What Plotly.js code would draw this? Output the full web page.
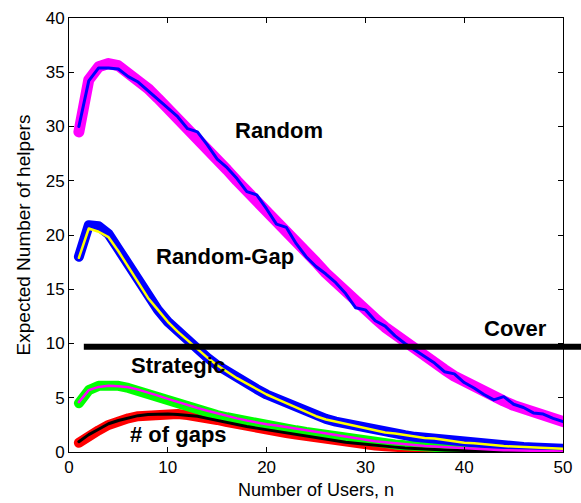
<!DOCTYPE html>
<html>
<head>
<meta charset="utf-8">
<script src="https://cdn.plot.ly/plotly-3.0.1.min.js"></script>
<style>
html,body{margin:0;padding:0;background:#fff;}
#chart{width:581px;height:503px;}
.scatterlayer path.js-line{stroke-linecap:round !important;stroke-linejoin:round !important;}
</style>
</head>
<body>
<div id="chart"></div>
<script>
// Number of users n
const users = [1,2,3,4,5,6,7,8,9,10,11,12,13,14,15,16,17,18,19,20,21,22,23,24,25,26,27,28,29,30,31,32,33,34,35,36,37,38,39,40,41,42,43,44,45,46,47,48,49,50];

// Random: analysis (thick magenta) and simulation (thin blue)
const randomAnalysis = [29.5,34.3,35.5,35.8,35.6,35.0,34.3,33.5,32.6,31.7,30.8,29.8,28.8,27.9,26.9,26.0,25.0,24.1,23.1,22.2,21.2,20.3,19.3,18.4,17.5,16.5,15.6,14.8,13.9,13.1,12.3,11.5,10.8,10.1,9.4,8.8,8.2,7.6,7.0,6.5,6.0,5.5,5.1,4.7,4.3,4.0,3.7,3.4,3.1,2.8];
const randomSim = [30.0,34.2,35.4,35.4,35.3,34.6,34.1,33.3,32.5,31.7,30.9,29.8,29.5,28.3,27.0,26.2,25.2,24.0,23.7,22.4,21.0,20.7,19.2,18.0,17.1,16.4,15.6,14.6,13.3,13.1,12.1,11.6,10.7,10.0,9.4,8.8,8.2,7.4,7.2,6.4,5.9,5.3,4.8,5.1,4.4,4.1,3.6,3.5,3.1,2.8];

// Random-Gap: analysis (thick blue) and simulation (thin yellow)
const randomGapAnalysis = [18.0,20.9,20.8,20.1,18.7,17.2,15.7,14.3,13.1,12.0,11.1,10.3,9.5,8.7,8.0,7.4,6.8,6.3,5.8,5.3,4.9,4.5,4.1,3.75,3.35,3.05,2.8,2.6,2.35,2.15,1.95,1.8,1.65,1.55,1.4,1.3,1.2,1.1,0.98,0.88,0.8,0.72,0.64,0.58,0.52,0.47,0.42,0.38,0.34,0.3];
const randomGapSim = [17.9,20.6,20.3,19.8,18.5,17.1,15.6,14.2,13.1,12.0,11.1,10.3,9.5,8.7,8.0,7.4,6.8,6.3,5.8,5.3,4.9,4.5,4.1,3.75,3.3,3.0,2.8,2.6,2.35,2.15,1.95,1.8,1.7,1.55,1.4,1.3,1.25,1.1,0.95,0.85,0.8,0.7,0.62,0.55,0.5,0.45,0.4,0.35,0.3,0.3];

// Strategic: analysis (thick green) and simulation (thin magenta)
const strategicAnalysis = [4.5,5.7,6.1,6.2,6.1,5.9,5.6,5.3,5.0,4.7,4.4,4.15,3.9,3.65,3.4,3.2,3.0,2.8,2.6,2.45,2.3,2.15,2.0,1.85,1.7,1.55,1.4,1.25,1.1,1.0,0.9,0.8,0.7,0.62,0.55,0.48,0.42,0.36,0.3,0.25,0.2,0.17,0.14,0.12,0.1,0.08,0.06,0.05,0.04,0.03];
const strategicSim = [4.6,5.7,6.0,6.1,6.05,5.97,5.75,5.5,5.2,4.9,4.6,4.3,4.05,3.8,3.55,3.3,3.1,2.9,2.7,2.55,2.45,2.3,2.15,2.0,1.85,1.7,1.55,1.4,1.25,1.12,1.0,0.9,0.8,0.72,0.64,0.56,0.5,0.44,0.38,0.33,0.28,0.24,0.2,0.17,0.14,0.12,0.1,0.08,0.06,0.05];

// # of gaps: analysis (thick red) and simulation (thin black)
const gapsAnalysis = [0.85,1.5,2.0,2.5,2.85,3.1,3.3,3.4,3.5,3.5,3.5,3.4,3.3,3.15,2.95,2.75,2.55,2.35,2.2,2.05,1.9,1.75,1.6,1.45,1.3,1.15,1.0,0.9,0.8,0.7,0.6,0.52,0.45,0.38,0.32,0.27,0.23,0.19,0.16,0.13,0.11,0.09,0.07,0.06,0.05,0.04,0.03,0.02,0.02,0.01];
const gapsSim = [0.95,1.6,2.1,2.6,2.9,3.15,3.35,3.45,3.5,3.5,3.45,3.4,3.3,3.1,2.9,2.75,2.55,2.35,2.2,2.05,1.9,1.75,1.6,1.45,1.3,1.15,1.0,0.9,0.8,0.7,0.6,0.52,0.45,0.38,0.32,0.27,0.23,0.19,0.16,0.13,0.11,0.09,0.07,0.06,0.05,0.04,0.03,0.02,0.02,0.01];

// Cover level
const coverLevel = 9.7;
const coverStartX = 1.5;

// Labels
const labelText = ["Random","Random-Gap","Cover","Strategic","# of gaps"];
const labelX = [21.25, 15.74, 45.2, 11.0, 11.1];
const labelY = [29.6, 18.0, 11.4, 8.0, 1.6];

const xTicks = [0,10,20,30,40,50];
const yTicks = [0,5,10,15,20,25,30,35,40];

function line(y, color, width) {
  return {x: users, y: y, type: 'scatter', mode: 'lines', line: {color: color, width: width, shape: 'linear'}, hoverinfo: 'skip', showlegend: false};
}

const traces = [
  line(gapsAnalysis, '#ff0000', 10),
  line(strategicAnalysis, '#00ff00', 10),
  line(randomGapAnalysis, '#0000ff', 10),
  line(randomAnalysis, '#ff00ff', 11),
  line(gapsSim, '#000000', 3),
  line(strategicSim, '#ff00ff', 2.5),
  line(randomGapSim, '#ffff00', 2.5),
  line(randomSim, '#0000ff', 3)
];

const layout = {
  width: 581, height: 503,
  margin: {l: 69, r: 18, t: 18, b: 51},
  paper_bgcolor: '#ffffff', plot_bgcolor: '#ffffff',
  font: {family: 'Liberation Sans, Arial, sans-serif', color: '#000000', size: 17},
  showlegend: false,
  xaxis: {
    range: [0, 50], tickvals: xTicks, ticktext: xTicks.map(String),
    ticks: 'inside', ticklen: 5, tickcolor: '#000', mirror: 'ticks',
    showline: true, linecolor: '#000', linewidth: 1, showgrid: false, zeroline: false,
    tickfont: {size: 17},
    title: {text: 'Number of Users, n', font: {size: 18}, standoff: 6}
  },
  yaxis: {
    range: [0, 40], tickvals: yTicks, ticktext: yTicks.map(String),
    ticks: 'inside', ticklen: 5, tickcolor: '#000', mirror: 'ticks',
    showline: true, linecolor: '#000', linewidth: 1, showgrid: false, zeroline: false,
    tickfont: {size: 17},
    title: {text: 'Expected Number of helpers', font: {size: 19}, standoff: 10}
  },
  shapes: [{
    type: 'line', xref: 'paper', yref: 'paper',
    x0: coverStartX / 50, x1: 1.04,
    y0: coverLevel / 40, y1: coverLevel / 40,
    line: {color: '#000000', width: 6}
  }],
  annotations: labelText.map((t, i) => ({
    text: '<b>' + t + '</b>', x: labelX[i], y: labelY[i], xref: 'x', yref: 'y',
    showarrow: false, font: {size: 22, color: '#000', family: 'Liberation Sans, Arial, sans-serif'},
    xanchor: 'center', yanchor: 'middle'
  }))
};

Plotly.newPlot('chart', traces, layout, {displayModeBar: false, staticPlot: true});
</script>
</body>
</html>
